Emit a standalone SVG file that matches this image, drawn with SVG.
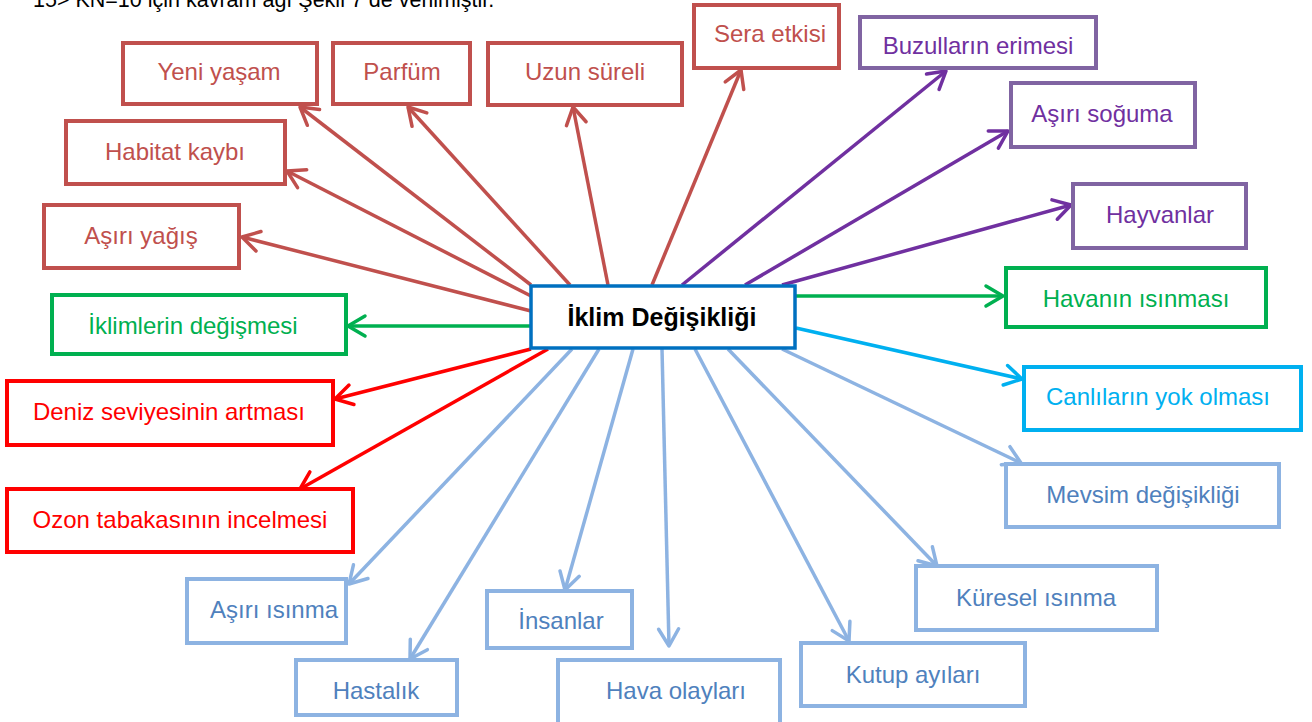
<svg xmlns="http://www.w3.org/2000/svg" width="1312" height="722" viewBox="0 0 1312 722">
<style>
text{font-family:"Liberation Sans",Arial,sans-serif;font-size:24px;text-anchor:middle}
rect{fill:#fff;stroke-width:4}
line{stroke-width:3.5;fill:none}
.br rect{stroke:#C0504D}.br text{fill:#C0504D}
.pu rect{stroke:#8064A2}.pu text{fill:#7030A0}
.gr rect{stroke:#00B050}.gr text{fill:#00B050}
.rd rect{stroke:#FF0000}.rd text{fill:#FF0000}
.cy rect{stroke:#00B0F0}.cy text{fill:#00B0F0}
.lb rect{stroke:#8DB3E2}.lb text{fill:#4F81BD}
.lbr{stroke:#C0504D}.lpu{stroke:#7030A0}.lgr{stroke:#00B050}.lrd{stroke:#FF0000}.lcy{stroke:#00B0F0}.llb{stroke:#8DB3E2}
</style>
<defs>
<marker id="mbr" viewBox="-20 -13 23 26" refX="0" refY="0" markerWidth="23" markerHeight="26" markerUnits="userSpaceOnUse" orient="auto"><path d="M-17,-10 L0,0 L-17,10" fill="none" stroke="#C0504D" stroke-width="3.5" stroke-linecap="round" stroke-linejoin="round"/></marker>
<marker id="mpu" viewBox="-20 -13 23 26" refX="0" refY="0" markerWidth="23" markerHeight="26" markerUnits="userSpaceOnUse" orient="auto"><path d="M-17,-10 L0,0 L-17,10" fill="none" stroke="#7030A0" stroke-width="3.5" stroke-linecap="round" stroke-linejoin="round"/></marker>
<marker id="mgr" viewBox="-20 -13 23 26" refX="0" refY="0" markerWidth="23" markerHeight="26" markerUnits="userSpaceOnUse" orient="auto"><path d="M-17,-10 L0,0 L-17,10" fill="none" stroke="#00B050" stroke-width="3.5" stroke-linecap="round" stroke-linejoin="round"/></marker>
<marker id="mrd" viewBox="-20 -13 23 26" refX="0" refY="0" markerWidth="23" markerHeight="26" markerUnits="userSpaceOnUse" orient="auto"><path d="M-17,-10 L0,0 L-17,10" fill="none" stroke="#FF0000" stroke-width="3.5" stroke-linecap="round" stroke-linejoin="round"/></marker>
<marker id="mcy" viewBox="-20 -13 23 26" refX="0" refY="0" markerWidth="23" markerHeight="26" markerUnits="userSpaceOnUse" orient="auto"><path d="M-17,-10 L0,0 L-17,10" fill="none" stroke="#00B0F0" stroke-width="3.5" stroke-linecap="round" stroke-linejoin="round"/></marker>
<marker id="mlb" viewBox="-20 -13 23 26" refX="0" refY="0" markerWidth="23" markerHeight="26" markerUnits="userSpaceOnUse" orient="auto"><path d="M-17,-10 L0,0 L-17,10" fill="none" stroke="#8DB3E2" stroke-width="3.5" stroke-linecap="round" stroke-linejoin="round"/></marker>
</defs>
<rect width="1312" height="722" style="fill:#fff;stroke:none"/>
<text x="33" y="7" style="text-anchor:start;font-size:21.5px;fill:#000">15&gt; KN=10 için kavram ağı Şekil 7 de verilmiştir.</text>

<g id="connectors">
<line class="lbr" x1="531" y1="285" x2="300" y2="107" marker-end="url(#mbr)"/>
<line class="lbr" x1="570" y1="285" x2="408" y2="107" marker-end="url(#mbr)"/>
<line class="lbr" x1="608" y1="285" x2="573" y2="107" marker-end="url(#mbr)"/>
<line class="lbr" x1="652" y1="285" x2="741" y2="70" marker-end="url(#mbr)"/>
<line class="lbr" x1="531" y1="296" x2="287" y2="171" marker-end="url(#mbr)"/>
<line class="lbr" x1="531" y1="311" x2="242" y2="237" marker-end="url(#mbr)"/>
<line class="lgr" x1="531" y1="326" x2="348" y2="326" marker-end="url(#mgr)"/>
<line class="lgr" x1="796" y1="296" x2="1003" y2="296" marker-end="url(#mgr)"/>
<line class="lrd" x1="531" y1="349" x2="335" y2="399" marker-end="url(#mrd)"/>
<line class="lrd" x1="548" y1="349" x2="300" y2="489" marker-end="url(#mrd)"/>
<line class="lpu" x1="682" y1="285" x2="946" y2="71" marker-end="url(#mpu)"/>
<line class="lpu" x1="745" y1="285" x2="1008" y2="131" marker-end="url(#mpu)"/>
<line class="lpu" x1="782" y1="285" x2="1071" y2="205" marker-end="url(#mpu)"/>
<line class="lcy" x1="796" y1="328" x2="1022" y2="379" marker-end="url(#mcy)"/>
<line class="llb" x1="572" y1="349" x2="349" y2="584" marker-end="url(#mlb)"/>
<line class="llb" x1="599" y1="349" x2="410" y2="659" marker-end="url(#mlb)"/>
<line class="llb" x1="633" y1="349" x2="565" y2="590" marker-end="url(#mlb)"/>
<line class="llb" x1="662" y1="349" x2="669" y2="646" marker-end="url(#mlb)"/>
<line class="llb" x1="695" y1="349" x2="849" y2="641" marker-end="url(#mlb)"/>
<line class="llb" x1="728" y1="349" x2="937" y2="566" marker-end="url(#mlb)"/>
<line class="llb" x1="782" y1="349" x2="1021" y2="463" marker-end="url(#mlb)"/>
</g>

<g id="center"><rect x="531" y="286" width="264" height="62" style="stroke:#0070C0;stroke-width:3.5"/><text x="662" y="326" style="font-weight:bold;font-size:25px;fill:#000">İklim Değişikliği</text></g>

<g id="yeni-yasam" class="br"><rect x="123" y="43" width="194" height="61"/><text x="219" y="80">Yeni yaşam</text></g>
<g id="parfum" class="br"><rect x="333" y="43" width="137" height="61"/><text x="402" y="80">Parfüm</text></g>
<g id="uzun-sureli" class="br"><rect x="488" y="43" width="194" height="62"/><text x="585" y="80">Uzun süreli</text></g>
<g id="sera-etkisi" class="br"><rect x="694" y="5" width="145" height="63"/><text x="770" y="42">Sera etkisi</text></g>
<g id="habitat-kaybi" class="br"><rect x="66" y="121" width="219" height="63"/><text x="175" y="160">Habitat kaybı</text></g>
<g id="asiri-yagis" class="br"><rect x="44" y="205" width="195" height="63"/><text x="141" y="244">Aşırı yağış</text></g>

<g id="iklimlerin-degismesi" class="gr"><rect x="52" y="295" width="294" height="59"/><text x="193" y="334">İklimlerin değişmesi</text></g>
<g id="deniz-seviyesi" class="rd"><rect x="7" y="381" width="326" height="64"/><text x="169" y="420">Deniz seviyesinin artması</text></g>
<g id="ozon" class="rd"><rect x="7" y="489" width="346" height="63"/><text x="180" y="528">Ozon tabakasının incelmesi</text></g>

<g id="buzullar" class="pu"><rect x="860" y="17" width="236" height="51"/><text x="978" y="54">Buzulların erimesi</text></g>
<g id="asiri-soguma" class="pu"><rect x="1011" y="83" width="184" height="64"/><text x="1102" y="122">Aşırı soğuma</text></g>
<g id="hayvanlar" class="pu"><rect x="1073" y="184" width="173" height="64"/><text x="1160" y="223">Hayvanlar</text></g>

<g id="havanin-isinmasi" class="gr"><rect x="1006" y="268" width="260" height="59"/><text x="1136" y="307">Havanın ısınması</text></g>
<g id="canlilar" class="cy"><rect x="1024" y="367" width="277" height="63"/><text x="1158" y="405">Canlıların yok olması</text></g>

<g id="mevsim" class="lb"><rect x="1006" y="464" width="273" height="63"/><text x="1143" y="503">Mevsim değişikliği</text></g>
<g id="kuresel" class="lb"><rect x="916" y="566" width="241" height="64"/><text x="1036" y="606">Küresel ısınma</text></g>
<g id="kutup" class="lb"><rect x="801" y="643" width="224" height="63"/><text x="913" y="683">Kutup ayıları</text></g>
<g id="hava-olaylari" class="lb"><rect x="558" y="660" width="222" height="70"/><text x="676" y="699">Hava olayları</text></g>
<g id="insanlar" class="lb"><rect x="487" y="591" width="145" height="57"/><text x="561" y="629">İnsanlar</text></g>
<g id="hastalik" class="lb"><rect x="296" y="660" width="161" height="55"/><text x="376" y="699">Hastalık</text></g>
<g id="asiri-isinma" class="lb"><rect x="187" y="579" width="159" height="64"/><text x="274" y="618">Aşırı ısınma</text></g>
</svg>
